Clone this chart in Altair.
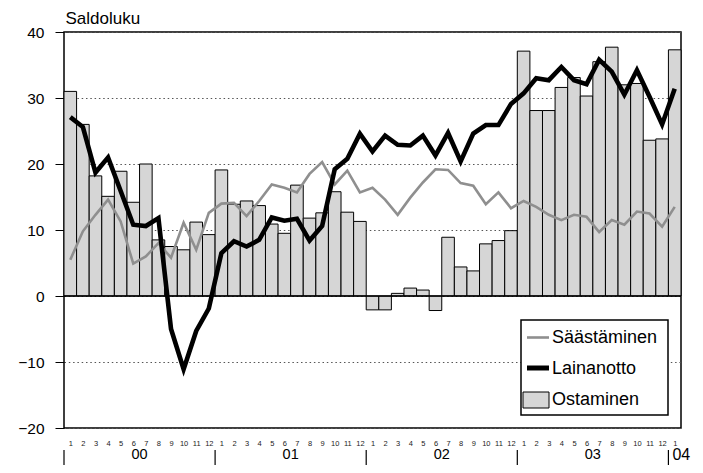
import altair as alt
import pandas as pd

# ---- data ----
months = list(range(49))                      # Jan 2000 ... Jan 2004
years = ["00", "01", "02", "03", "04"]
series_names = ["Säästäminen", "Lainanotto", "Ostaminen"]

ostaminen = [31.0, 26.0, 18.2, 15.1, 18.9, 14.2, 20.0, 8.5, 7.5, 7.0, 11.2, 9.3,
             19.1, 13.9, 14.4, 13.7, 10.9, 9.5, 16.8, 11.8, 12.6, 15.8, 12.7, 11.3,
             -2.1, -2.1, 0.4, 1.2, 0.9, -2.2, 8.9, 4.4, 3.8, 7.9, 8.4, 9.9,
             37.1, 28.1, 28.1, 31.6, 33.1, 30.3, 35.5, 37.7, 32.0, 32.2, 23.6, 23.8,
             37.3]
lainanotto = [27.1, 25.6, 18.7, 21.0, 15.9, 10.8, 10.6, 11.8, -5.0, -11.1, -5.3, -1.9,
              6.5, 8.3, 7.5, 8.5, 11.9, 11.4, 11.7, 8.4, 10.6, 19.2, 20.8, 24.6,
              21.9, 24.3, 22.9, 22.8, 24.3, 21.3, 24.7, 20.4, 24.6, 25.9, 25.9, 29.1,
              30.7, 33.0, 32.7, 34.7, 32.7, 32.1, 35.8, 34.0, 30.5, 34.2, 30.2, 26.0,
              31.4]
saastaminen = [5.5, 9.8, 12.3, 14.6, 11.3, 4.9, 6.0, 8.0, 5.8, 11.1, 7.0, 12.6,
               14.0, 14.1, 12.1, 14.4, 16.9, 16.4, 15.7, 18.5, 20.3, 16.9, 19.0, 15.7,
               16.4, 14.6, 12.3, 14.9, 17.2, 19.2, 19.1, 17.1, 16.7, 13.9, 15.7, 13.3,
               14.4, 13.5, 12.3, 11.5, 12.3, 12.0, 9.7, 11.5, 10.8, 12.8, 12.5, 10.5,
               13.5]
y_ticks = [-20, -10, 0, 10, 20, 30, 40]

df = pd.DataFrame({
    "i": months,
    "start": months,
    "end": [m + 1 for m in months],
    "mid": [m + 0.5 for m in months],
    "year": [years[m // 12] for m in months],
    "ost": ostaminen,
    "lai": lainanotto,
    "saa": saastaminen,
})

FONT = "Liberation Sans, Arial, sans-serif"

xscale = alt.Scale(domain=[0, len(months)], nice=False, zero=False)
yscale = alt.Scale(domain=[-20, 40], nice=False, zero=False)

xaxis = alt.Axis(values=[m + 0.5 for m in months],
                 labelExpr="(floor(datum.value) % 12) + 1",
                 ticks=False, tickSize=0, domain=False, grid=False,
                 labelFont=FONT, labelFontSize=7.5, labelColor="#222",
                 labelPadding=11, labelOverlap=False, labelFlush=False, title=None)
yaxis = alt.Axis(values=y_ticks, title="Saldoluku", titleAngle=0, titleAlign="left",
                 titleBaseline="alphabetic", titleX=1, titleY=-9, titleFont=FONT,
                 titleFontSize=17, titleFontWeight="normal", titleColor="black",
                 labelFont=FONT, labelFontSize=15.5, labelColor="black", labelPadding=11,
                 tickSize=9, tickColor="black", tickWidth=1, domain=False,
                 grid=True, gridDash=[1.5, 2.8], gridColor="#555", gridWidth=1)


def X(f):
    return alt.X(f"{f}:Q", scale=xscale, axis=xaxis, title=None)


def Y(f):
    return alt.Y(f"{f}:Q", scale=yscale, axis=yaxis, title="Saldoluku")


base = alt.Chart(df)

bars = base.mark_bar(fill="#d6d6d6", stroke="black", strokeWidth=1).encode(
    x=X("start"), x2="end", y=Y("ost"), y2=alt.datum(0))

zero = alt.Chart(pd.DataFrame({"v": [0]})).mark_rule(color="black", strokeWidth=1.5).encode(
    y=Y("v"))

saa_line = base.mark_line(color="#8f8f8f", strokeWidth=2.6).encode(x=X("mid"), y=Y("saa"))
lai_line = base.mark_line(color="black", strokeWidth=4.6).encode(x=X("mid"), y=Y("lai"))

# ---- legend (manual) ----
one = pd.DataFrame({"k": [0]})
leg_box = alt.Chart(one).mark_rect(fill="white", stroke="black", strokeWidth=1.5).encode(
    x=alt.value(457), x2=alt.value(604), y=alt.value(288), y2=alt.value(383))
leg_saa = alt.Chart(one).mark_rule(color="#8f8f8f", strokeWidth=2.6).encode(
    x=alt.value(463), x2=alt.value(485), y=alt.value(305.5))
leg_lai = alt.Chart(one).mark_rule(color="black", strokeWidth=5).encode(
    x=alt.value(463), x2=alt.value(485), y=alt.value(336))
leg_ost = alt.Chart(one).mark_rect(fill="#d6d6d6", stroke="black", strokeWidth=1).encode(
    x=alt.value(459), x2=alt.value(485), y=alt.value(360), y2=alt.value(376))
leg_rows = [306, 337, 368]
leg_texts = [
    alt.Chart(pd.DataFrame({"name": [name]})).mark_text(
        font=FONT, fontSize=18, align="left", baseline="middle", color="black").encode(
        x=alt.value(488), y=alt.value(ry), text="name:N")
    for name, ry in zip(series_names, leg_rows)
]

# ---- year separators and labels ----
seps = base.transform_filter("datum.i % 12 == 0").mark_rule(color="black", strokeWidth=1.2).encode(
    x=X("start"), y=alt.value(418), y2=alt.value(445))
year_lbl = base.transform_filter("datum.i % 12 == 6").mark_text(
    font=FONT, fontSize=14.5, baseline="middle", color="black").encode(
    x=X("start"), y=alt.value(423), text="year:N")
year_last = base.transform_filter("datum.i == 48").mark_text(
    font=FONT, fontSize=16, baseline="middle", align="left", dx=4, color="black").encode(
    x=X("start"), y=alt.value(423), text="year:N")

chart = alt.layer(
    bars, zero, saa_line, lai_line,
    leg_box, leg_saa, leg_lai, leg_ost, *leg_texts,
    seps, year_lbl, year_last,
).properties(
    width=617, height=396,
    padding={"left": 56, "top": 24, "right": 14, "bottom": 37},
    autosize="none",
).configure_view(stroke="black", strokeWidth=1.5)

chart.save("out.html", embed_options={"renderer": "svg", "actions": False})
